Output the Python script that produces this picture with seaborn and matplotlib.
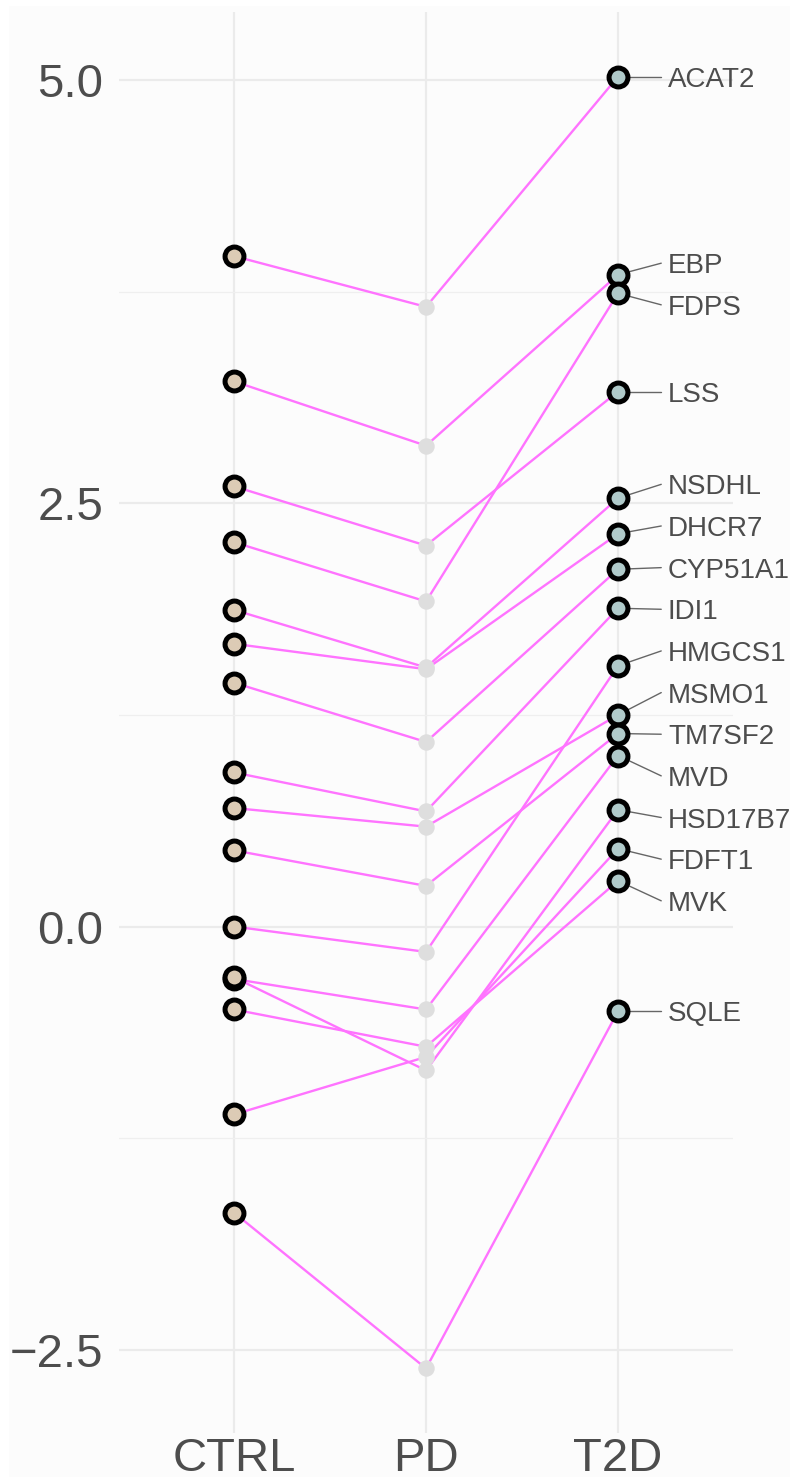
import numpy as np
import pandas as pd
import matplotlib
matplotlib.use("Agg")
import matplotlib.pyplot as plt
from matplotlib.ticker import FixedLocator, FuncFormatter
from matplotlib.patches import Rectangle
import seaborn as sns

# Groups along the x axis
groups = ["CTRL", "PD", "T2D"]

# Genes of the cholesterol biosynthesis pathway
genes = ["ACAT2", "EBP", "LSS", "FDPS", "NSDHL", "DHCR7", "CYP51A1", "IDI1",
         "MSMO1", "TM7SF2", "HMGCS1", "MVD", "HSD17B7", "FDFT1", "MVK", "SQLE"]

# Values per group
ctrl = [3.96, 3.22, 2.60, 2.27, 1.87, 1.67, 1.44, 0.91,
        0.70, 0.45, 0.00, -0.31, -0.30, -1.11, -0.49, -1.69]
pd_vals = [3.66, 2.84, 2.25, 1.92, 1.53, 1.52, 1.09, 0.68,
           0.59, 0.24, -0.15, -0.49, -0.85, -0.77, -0.71, -2.61]
t2d = [5.02, 3.85, 3.16, 3.74, 2.53, 2.32, 2.11, 1.88,
       1.25, 1.14, 1.54, 1.01, 0.69, 0.46, 0.27, -0.50]

y_ticks = [-2.5, 0.0, 2.5, 5.0]

# Long-format table
df = pd.DataFrame({
    "gene": genes * 3,
    "group": np.repeat(groups, len(genes)),
    "value": ctrl + pd_vals + t2d,
})
df["pos"] = df["group"].map({g: i for i, g in enumerate(groups)})

sns.set_theme(style="white")
plt.rcParams["font.family"] = ["Liberation Sans", "DejaVu Sans"]

fig = plt.figure(figsize=(7.99, 14.83), dpi=100)
fig.patch.set_facecolor("white")
fig.patches.append(Rectangle((9 / 799, 6 / 1483), 781 / 799, 1471 / 1483,
                             transform=fig.transFigure, facecolor="#FCFCFC",
                             edgecolor="none", zorder=-10))
ax = fig.add_axes([0.1487, 0.0337, 0.769, 0.9582])
ax.set_facecolor("none")

line_col = "#FF73FF"
sns.lineplot(data=df, x="pos", y="value", units="gene", estimator=None,
             color=line_col, linewidth=1.7, ax=ax, zorder=2, legend=False)

sns.scatterplot(data=df[df["group"] == "PD"], x="pos", y="value",
                color="#DEDEDE", s=140, linewidth=0, ax=ax, zorder=3, legend=False)
sns.scatterplot(data=df[df["group"] == "CTRL"], x="pos", y="value",
                color="#DCCBB5", s=185, edgecolor="black", linewidth=3.6,
                ax=ax, zorder=4, legend=False)
sns.scatterplot(data=df[df["group"] == "T2D"], x="pos", y="value",
                color="#B0CACA", s=185, edgecolor="black", linewidth=3.6,
                ax=ax, zorder=4, legend=False)


def repel(y, gap, n_iter=2000):
    pos = np.array(y, dtype=float)
    for _ in range(n_iter):
        order = np.argsort(pos)
        changed = False
        for a, b in zip(order[:-1], order[1:]):
            d = pos[b] - pos[a]
            if d < gap - 1e-6:
                shift = (gap - d) / 2
                pos[a] -= shift
                pos[b] += shift
                changed = True
        if not changed:
            break
    return pos


# Gene labels on the right, spread apart with leader segments
label_y = repel(t2d, 0.246)
x_pt = 2
x_seg = 2.225
x_txt = 2.26
for g, yp, yl in zip(genes, t2d, label_y):
    ax.plot([x_pt, x_seg], [yp, yl], color="#666666", linewidth=1.0,
            zorder=3.5, clip_on=False)
    ax.text(x_txt, yl, g, fontsize=20, color="#4D4D4D", ha="left",
            va="center_baseline", clip_on=False)

# Axis ranges with 5% padding, discrete padding on x
all_vals = np.array(ctrl + pd_vals + t2d)
lo, hi = all_vals.min(), all_vals.max()
pad = 0.05 * (hi - lo)
ax.set_ylim(lo - pad, hi + pad)
ax.set_xlim(-0.6, 2.6)

ax.xaxis.set_major_locator(FixedLocator(range(len(groups))))
ax.set_xticklabels(groups)
ax.yaxis.set_major_locator(FixedLocator(y_ticks))
ax.yaxis.set_minor_locator(FixedLocator([(a + b) / 2 for a, b in zip(y_ticks[:-1], y_ticks[1:])]))
ax.yaxis.set_major_formatter(FuncFormatter(lambda v, _: f"{v:.1f}".replace("-", "\u2212")))

ax.grid(True, which="major", axis="both", color="#EBEBEB", linewidth=1.6, zorder=0)
ax.grid(True, which="minor", axis="y", color="#EFEFEF", linewidth=0.9, zorder=0)
ax.set_axisbelow(True)
for s in ax.spines.values():
    s.set_visible(False)
ax.tick_params(axis="both", which="both", length=0, labelsize=34, colors="#4D4D4D")
ax.tick_params(axis="y", pad=11)
ax.tick_params(axis="x", pad=3)
ax.set_xlabel("")
ax.set_ylabel("")

fig.savefig("out.png", dpi=100, facecolor=fig.get_facecolor())
